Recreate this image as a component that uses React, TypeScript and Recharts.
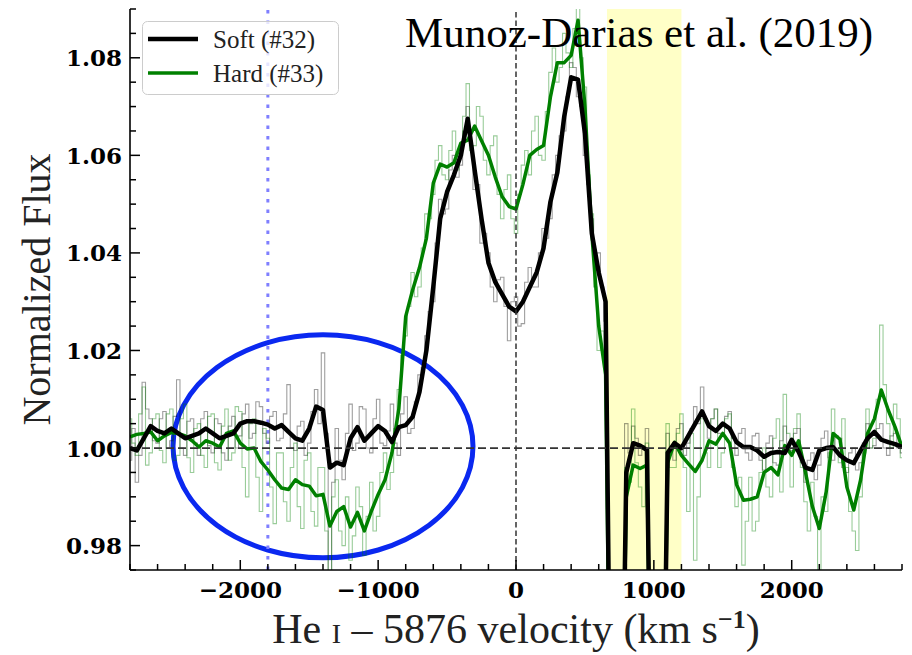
import React from 'react';
import {
  LineChart,
  Line,
  XAxis,
  YAxis,
  ReferenceLine,
  ReferenceArea,
  Legend,
} from 'recharts';

// He I 5876 line profile, soft (#32) vs hard (#33) state.
// Smoothed profiles on a 50 km/s grid, raw spectra also sampled half-way between.
const velocity = [
  -2800, -2750, -2700, -2650, -2600, -2550, -2500, -2450, -2400, -2350,
  -2300, -2250, -2200, -2150, -2100, -2050, -2000, -1950, -1900, -1850,
  -1800, -1750, -1700, -1650, -1600, -1550, -1500, -1450, -1400, -1350,
  -1300, -1250, -1200, -1150, -1100, -1050, -1000, -950, -900, -850,
  -800, -750, -700, -650, -600, -550, -500, -450, -400, -350,
  -300, -250, -200, -150, -100, -50, 0, 50, 100, 150,
  200, 250, 300, 350, 400, 450, 500, 550, 600, 650,
  700, 750, 800, 850, 900, 950, 1000, 1050, 1100, 1150,
  1200, 1250, 1300, 1350, 1400, 1450, 1500, 1550, 1600, 1650,
  1700, 1750, 1800, 1850, 1900, 1950, 2000, 2050, 2100, 2150,
  2200, 2250, 2300, 2350, 2400, 2450, 2500, 2550, 2600, 2650,
  2700, 2750, 2800,
];

const softRaw = [
  0.9975, 0.993, 1.0135, 1.006, 1.001, 1.0075, 1.0015, 1.014, 0.9985, 1.006,
  0.9985, 1.0075, 0.999, 1.005, 0.9975, 1.0065, 1.0025, 1.009, 1.003, 1.0085,
  1.001, 1.0075, 1.002, 1.013, 0.9995, 1.0055, 1.001, 1.012, 1.0195, 0.974,
  1.004, 0.9935, 1.009, 1.001, 1.008, 0.999, 1.01, 1.0005, 1.009, 0.9985,
  1.0105, 1.004, 1.015, 1.023, 1.03, 1.051, 1.049, 1.06, 1.058, 1.07,
  1.053, 1.042, 1.04, 1.03, 1.035, 1.022, 1.031, 1.0255, 1.037, 1.033,
  1.045, 1.047, 1.06, 1.065, 1.079, 1.072, 1.06, 1.047, 1.04, 1.026,
  0.9, 0.9, 1.005, 1.0045, 0.9985, 1.004, 0.9, 0.9, 1.003, 0.9975,
  1.005, 1.001, 1.0085, 1.0125, 1.002, 1.008, 1.0025, 1.0075, 0.9985, 1.004,
  0.9975, 1.003, 0.9955, 1.0025, 0.9965, 1.0045, 0.9995, 1.004, 0.993, 0.999,
  0.9965, 1.0035, 0.9975, 1.002, 0.995, 1.0, 0.997, 1.005, 1.0005, 1.005,
  0.9985, 1.003, 0.999,
];

// raw soft spectrum, 25 km/s after each grid point
const softRawMid = [
  1.004, 0.9985, 1.008, 1.0015, 1.006, 1.0, 1.0065, 1.0, 1.0055, 1.001,
  1.006, 1.0005, 1.006, 0.999, 1.0045, 1.0, 1.007, 1.002, 1.0095, 1.003,
  1.0065, 1.0015, 1.007, 1.0, 1.0045, 0.9985, 1.0075, 1.005, 1.003, 0.993,
  0.9975, 1.003, 0.9995, 1.0085, 1.0, 1.006, 1.001, 1.0035, 1.001, 1.007,
  1.003, 1.0095, 1.0165, 1.028, 1.042, 1.048, 1.057, 1.0555, 1.065, 1.062,
  1.054, 1.044, 1.033, 1.0345, 1.029, 1.03, 1.025, 1.034, 1.033, 1.04,
  1.043, 1.056, 1.064, 1.072, 1.078, 1.07, 1.054, 1.038, 1.033, 0.9,
  0.9, 0.9, 0.999, 1.002, 1.0005, 0.9, 0.9, 0.9, 1.0, 1.004,
  0.9985, 1.004, 1.005, 1.006, 1.006, 1.003, 1.0065, 1.002, 1.003, 0.999,
  1.0025, 0.9975, 1.001, 0.997, 1.0015, 1.0005, 1.003, 0.997, 0.9975, 0.9935,
  1.002, 0.998, 1.0025, 0.996, 0.999, 0.9955, 1.001, 1.0, 1.004, 1.0,
  1.0025, 1.0,
];

const softSmooth = [
  1.0, 0.9995, 1.002, 1.0045, 1.0035, 1.003, 1.004, 1.003, 1.002, 1.0025,
  1.003, 1.004, 1.003, 1.002, 1.0025, 1.003, 1.005, 1.0055, 1.0055, 1.0052,
  1.0048, 1.004, 1.0047, 1.0033, 1.002, 1.0015, 1.004, 1.0085, 1.0078, 0.996,
  0.997, 0.9965, 1.002, 1.0043, 1.0015, 1.003, 1.0045, 1.0035, 1.0012, 1.0043,
  1.0047, 1.0064, 1.0115, 1.02, 1.033, 1.047, 1.0525, 1.056, 1.06, 1.0675,
  1.057, 1.047, 1.038, 1.034, 1.0315, 1.029, 1.028, 1.03, 1.033, 1.036,
  1.041, 1.0505, 1.0565, 1.068, 1.076, 1.0755, 1.0645, 1.044, 1.036, 1.03,
  0.9, 0.9, 0.995, 1.001, 1.0005, 0.9996, 0.9, 0.9, 0.999, 1.001,
  1.0, 1.0025, 1.005, 1.0075, 1.0045, 1.0035, 1.005, 1.004, 1.0012, 1.0002,
  1.0002, 0.9995, 0.9982, 0.999, 0.9992, 0.999, 1.0017, 0.9992, 0.996, 0.9955,
  0.9995, 1.0, 1.0002, 0.9985, 0.9975, 0.9969, 0.9995, 1.002, 1.0033, 1.0017,
  1.0012, 1.0008, 1.0002,
];

const hardRaw = [
  1.006, 0.9985, 1.0125, 0.999, 1.007, 0.997, 1.008, 0.9985, 1.009, 0.995,
  1.005, 0.996, 1.007, 0.9955, 1.008, 0.999, 1.0075, 0.99, 1.006, 0.987,
  1.002, 0.9845, 0.999, 0.985, 1.001, 0.9835, 0.999, 0.984, 0.996, 0.974,
  0.9935, 0.98, 0.977, 0.992, 0.978, 0.993, 0.986, 0.999, 0.995, 1.012,
  1.023, 1.036, 1.033, 1.048, 1.052, 1.062, 1.055, 1.065, 1.06, 1.0747,
  1.062, 1.068, 1.056, 1.064, 1.047, 1.056, 1.044, 1.058, 1.056, 1.068,
  1.059, 1.077, 1.075, 1.085, 1.078, 1.092, 1.074, 1.048, 1.02, 1.018,
  0.9, 0.9, 0.996, 1.008, 0.992, 1.001, 0.9, 0.9, 1.005, 0.996,
  1.007, 0.987, 0.977, 1.006, 0.996, 1.008, 0.999, 1.007, 0.988, 0.976,
  0.994, 0.985, 1.0, 0.99, 1.006, 1.011, 0.992, 1.007, 0.989, 0.993,
  0.975, 0.987, 1.008, 0.997, 0.996, 0.983, 0.99, 1.008, 1.002, 1.0252,
  1.005, 1.009, 0.998,
];

// raw hard spectrum, 25 km/s after each grid point
const hardRawMid = [
  1.001, 1.007, 0.9965, 1.006, 0.9995, 1.007, 0.9975, 1.006, 0.998, 1.004,
  0.9985, 1.0065, 0.997, 1.0045, 0.9975, 1.0085, 0.996, 1.005, 0.994, 1.004,
  0.992, 0.999, 0.989, 0.996, 0.988, 0.9975, 0.987, 0.996, 0.983, 0.99,
  0.983, 0.99, 0.982, 0.988, 0.986, 0.983, 0.995, 0.9915, 1.004, 1.019,
  1.029, 1.031, 1.041, 1.047, 1.059, 1.056, 1.061, 1.057, 1.068, 1.061,
  1.07, 1.059, 1.062, 1.052, 1.053, 1.047, 1.052, 1.061, 1.065, 1.06,
  1.069, 1.082, 1.078, 1.081, 1.086, 1.08, 1.056, 1.033, 1.024, 0.9,
  0.9, 0.9, 0.993, 0.997, 0.988, 0.9, 0.9, 0.9, 0.996, 1.003,
  0.996, 1.003, 0.99, 0.999, 1.006, 0.996, 1.006, 0.996, 0.994, 0.985,
  0.983, 0.995, 0.992, 1.002, 0.991, 1.003, 1.004, 0.996, 0.983, 0.986,
  0.99, 0.999, 1.0, 1.006, 0.987, 0.979, 0.999, 1.0, 1.01, 1.013,
  1.0, 1.006,
];

const hardSmooth = [
  1.0023, 1.0028, 1.003, 1.0033, 1.0015, 1.0025, 1.0032, 1.003, 1.0025, 1.0015,
  1.0002, 1.0015, 1.001, 1.0002, 1.003, 1.0035, 1.001, 0.9998, 1.0, 0.9972,
  0.9955, 0.9935, 0.9918, 0.9915, 0.9935, 0.9925, 0.9922, 0.9902, 0.9905, 0.984,
  0.987, 0.988, 0.9838, 0.9868, 0.983, 0.987, 0.9905, 0.9935, 0.999, 1.008,
  1.027, 1.0324, 1.037, 1.043, 1.0543, 1.0582, 1.0576, 1.0585, 1.0625, 1.0631,
  1.066, 1.063, 1.06, 1.0555, 1.0515, 1.0495, 1.049, 1.054, 1.06, 1.0612,
  1.062, 1.072, 1.079, 1.079, 1.0805, 1.0877, 1.07, 1.044, 1.025, 1.015,
  0.9, 0.9, 0.99, 0.9965, 0.9958, 0.9965, 0.9, 0.9, 0.997, 1.0012,
  0.9985, 0.9968, 0.9952, 0.9975, 1.0015, 1.0008, 1.003, 1.001, 0.9925, 0.9893,
  0.9895, 0.99, 0.995, 0.996, 0.9945, 1.0005, 0.9985, 1.0015, 0.995, 0.988,
  0.9835, 0.991, 1.003, 1.0018, 0.992, 0.9873, 0.9935, 1.003, 1.006, 1.0119,
  1.0078, 1.0043, 1.0002,
];

const xTicks = [
  -2800, -2600, -2400, -2200, -2000, -1800, -1600, -1400, -1200, -1000,
  -800, -600, -400, -200, 0, 200, 400, 600, 800, 1000,
  1200, 1400, 1600, 1800, 2000, 2200, 2400, 2600, 2800,
];
const xLabelTicks = [-2000, -1000, 0, 1000, 2000];
const yTicks = [
  0.975, 0.98, 0.985, 0.99, 0.995, 1.0, 1.005, 1.01, 1.015, 1.02, 1.025, 1.03,
  1.035, 1.04, 1.045, 1.05, 1.055, 1.06, 1.065, 1.07, 1.075, 1.08, 1.085, 1.09,
];
const yLabelTicks = [0.98, 1.0, 1.02, 1.04, 1.06, 1.08];

const gapBand = [660, 1200];
const markerVelocity = -1800;
const ellipseBox = { x1: -2488, x2: -312, y1: 0.9775, y2: 1.0232 };

// merge the grid rows with the half-step raw rows, sorted by velocity
const data: any[] = [];
velocity.forEach((v, i) => {
  data.push({ v, softRaw: softRaw[i], soft: softSmooth[i], hardRaw: hardRaw[i], hard: hardSmooth[i] });
  if (i < softRawMid.length) {
    data.push({ v: v + 25, softRaw: softRawMid[i], hardRaw: hardRawMid[i] });
  }
});

const SERIF = '"Liberation Serif", "Times New Roman", serif';
const TICK_FONT = '"DejaVu Serif", serif';
const MAJOR = 10;
const MINOR = 6;

const isXMajor = (v: number) => xLabelTicks.includes(v);
const isYMajor = (v: number) => yLabelTicks.some((t) => Math.abs(t - v) < 1e-6);

const BottomTick = ({ x, y, payload }: any) => {
  const major = isXMajor(payload.value);
  const label = payload.value < 0 ? `\u2212${Math.abs(payload.value)}` : `${payload.value}`;
  return (
    <g>
      <line x1={x} x2={x} y1={y} y2={y - (major ? MAJOR : MINOR)} stroke="#000" strokeWidth={1.5} />
      {major && (
        <text x={x} y={y + 28} textAnchor="middle" fontFamily={TICK_FONT} fontWeight="bold" fontSize={23} fill="#000">
          {label}
        </text>
      )}
    </g>
  );
};

const TopTick = ({ x, y, payload }: any) => (
  <line x1={x} x2={x} y1={y} y2={y + (isXMajor(payload.value) ? MAJOR : MINOR)} stroke="#000" strokeWidth={1.5} />
);

const LeftTick = ({ x, y, payload }: any) => {
  const major = isYMajor(payload.value);
  return (
    <g>
      <line x1={x} x2={x + (major ? MAJOR : MINOR)} y1={y} y2={y} stroke="#000" strokeWidth={1.5} />
      {major && (
        <text x={x - 8} y={y} textAnchor="end" dominantBaseline="central" fontFamily={TICK_FONT} fontWeight="bold" fontSize={23} fill="#000">
          {payload.value.toFixed(2)}
        </text>
      )}
    </g>
  );
};

const RightTick = ({ x, y, payload }: any) => (
  <line x1={x} x2={x - (isYMajor(payload.value) ? MAJOR : MINOR)} y1={y} y2={y} stroke="#000" strokeWidth={1.5} />
);

const XTitle = ({ viewBox }: any) => {
  const cx = viewBox.x + viewBox.width / 2;
  const base = viewBox.y + 73;
  return (
    <text x={cx} y={base} textAnchor="middle" fontFamily={SERIF} fontSize={42} fill="#222">
      He <tspan fontSize={28}>I</tspan> {'\u2013'} 5876 velocity (km s
      <tspan dy={-15} fontSize={26} fontWeight="bold">{'\u22121'}</tspan>
      <tspan dy={15}>)</tspan>
    </text>
  );
};

const YTitle = ({ viewBox }: any) => {
  const bx = viewBox.x;
  const cy = viewBox.y + viewBox.height / 2;
  return (
    <text x={bx} y={cy} transform={`rotate(-90 ${bx} ${cy})`} textAnchor="middle" fontFamily={SERIF} fontSize={40} fill="#222">
      Normalized Flux
    </text>
  );
};

const ellipseShape = (props: any) => {
  const { x, y, width, height } = props;
  return (
    <ellipse
      cx={x + width / 2}
      cy={y + height / 2}
      rx={width / 2}
      ry={height / 2}
      fill="none"
      stroke="#0a28f0"
      strokeWidth={5}
    />
  );
};

const StateLegend = () => (
  <svg width={197} height={74} style={{ display: 'block' }}>
    <rect x={0.5} y={0.5} width={196} height={73} rx={5} fill="rgba(255,255,255,0.8)" stroke="#cccccc" />
    <line x1={6} x2={56} y1={18} y2={18} stroke="#000" strokeWidth={4.5} />
    <text x={71} y={27} fontFamily={SERIF} fontSize={25} fill="#222">Soft (#32)</text>
    <line x1={6} x2={56} y1={52} y2={52} stroke="green" strokeWidth={3.5} />
    <text x={71} y={61} fontFamily={SERIF} fontSize={25} fill="#222">Hard (#33)</text>
  </svg>
);

export default function App() {
  return (
    <div style={{ position: 'fixed', left: 0, top: 0, width: 912, height: 655, background: '#fff' }}>
      <LineChart width={912} height={655} data={data} margin={{ top: 9, right: 10, bottom: 45, left: 50 }}>
        <XAxis
          dataKey="v"
          type="number"
          domain={[-2800, 2800]}
          allowDataOverflow
          ticks={xTicks}
          interval={0}
          tickSize={0}
          tickMargin={0}
          tick={<BottomTick />}
          height={40}
          axisLine={{ stroke: '#000', strokeWidth: 1.6 }}
          label={<XTitle />}
        />
        <XAxis
          xAxisId="top"
          orientation="top"
          dataKey="v"
          type="number"
          domain={[-2800, 2800]}
          allowDataOverflow
          ticks={xTicks}
          interval={0}
          tickSize={0}
          tickMargin={0}
          tick={<TopTick />}
          height={0}
          axisLine={{ stroke: '#000', strokeWidth: 1.6 }}
        />
        <YAxis
          type="number"
          domain={[0.975, 1.09]}
          allowDataOverflow
          ticks={yTicks}
          interval={0}
          tickSize={0}
          tickMargin={0}
          tick={<LeftTick />}
          width={80}
          axisLine={{ stroke: '#000', strokeWidth: 1.6 }}
          label={<YTitle />}
        />
        <YAxis
          yAxisId="right"
          orientation="right"
          type="number"
          domain={[0.975, 1.09]}
          allowDataOverflow
          ticks={yTicks}
          interval={0}
          tickSize={0}
          tickMargin={0}
          tick={<RightTick />}
          width={0}
          axisLine={{ stroke: '#000', strokeWidth: 1.6 }}
        />

        <ReferenceArea x1={gapBand[0]} x2={gapBand[1]} fill="yellow" fillOpacity={0.22} stroke="none" ifOverflow="visible" />
        <ReferenceLine x={markerVelocity} stroke="#7f7fff" strokeWidth={3} strokeDasharray="3.5 7" />

        <Line dataKey="softRaw" type="step" stroke="#000" strokeOpacity={0.38} strokeWidth={1.1} dot={false} activeDot={false} isAnimationActive={false} />
        <Line dataKey="hardRaw" type="step" stroke="green" strokeOpacity={0.4} strokeWidth={1.1} dot={false} activeDot={false} isAnimationActive={false} />
        <Line dataKey="hard" type="linear" connectNulls stroke="green" strokeWidth={3.5} strokeLinejoin="round" dot={false} activeDot={false} isAnimationActive={false} />
        <Line dataKey="soft" type="linear" connectNulls stroke="#000" strokeWidth={4.5} strokeLinejoin="round" dot={false} activeDot={false} isAnimationActive={false} />

        <ReferenceLine y={1} stroke="#333" strokeWidth={1.8} strokeDasharray="8 4" />
        <ReferenceLine x={0} stroke="#333" strokeWidth={1.5} strokeDasharray="5.5 3" />
        <ReferenceArea
          x1={ellipseBox.x1}
          x2={ellipseBox.x2}
          y1={ellipseBox.y1}
          y2={ellipseBox.y2}
          shape={ellipseShape}
          ifOverflow="visible"
        />

        <Legend
          layout="horizontal"
          verticalAlign="middle"
          align="center"
          content={<StateLegend />}
          wrapperStyle={{ position: 'absolute', left: 142, top: 21, width: 197, height: 74 }}
        />
      </LineChart>
      <svg width={912} height={80} style={{ position: 'absolute', left: 0, top: 0, pointerEvents: 'none' }}>
        <text x={405} y={47} fontFamily={SERIF} fontSize={43} fill="#000">
          Munoz-Darias et al. (2019)
        </text>
      </svg>
    </div>
  );
}
